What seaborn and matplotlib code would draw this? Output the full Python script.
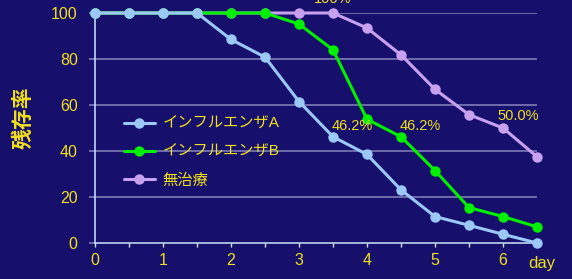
import numpy as np
import matplotlib
matplotlib.use('Agg')
import matplotlib.pyplot as plt
import pandas as pd
import seaborn as sns

# 日数（0.5日刻み）
days = [0, 0.5, 1, 1.5, 2, 2.5, 3, 3.5, 4, 4.5, 5, 5.5, 6, 6.5]
flu_a = [100, 100, 100, 100, 88.5, 80.8, 61.5, 46.2, 38.5, 23.1, 11.5, 7.7, 3.8, 0]
flu_b = [100, 100, 100, 100, 100, 100, 95.2, 84.0, 53.8, 46.2, 31.5, 15.4, 11.5, 7.0]
no_treat = [100, 100, 100, 100, 100, 100, 100, 100, 93.5, 81.8, 66.8, 55.8, 50.0, 37.5]
names = ['インフルエンザA', 'インフルエンザB', '無治療']
colors = ['#9cc8f8', '#00f000', '#c8a0f0']

df = pd.DataFrame({'day': days * 3,
                   'rate': flu_a + flu_b + no_treat,
                   'group': [n for n in names for _ in days]})

sns.set_style('dark')
plt.rcParams['font.family'] = ['Liberation Sans', 'Noto Sans CJK JP']

bg = '#160f6c'
yellow = '#f0e01c'
grid_c = '#7573b0'
spine_c = '#cfe6ff'

fig = plt.figure(figsize=(5.72, 2.79), dpi=100, facecolor=bg)
ax = fig.add_axes([95 / 572, 36 / 279, 442 / 572, 230 / 279])
ax.set_facecolor(bg)

# 無治療を一番下、Aを一番上に描く
zs = [3, 2, 1]
for name, c, z in zip(names, colors, zs):
    sns.lineplot(data=df[df['group'] == name], x='day', y='rate', ax=ax,
                 color=c, marker='o', markersize=7.5, markeredgewidth=0,
                 linewidth=2.2, label=name, zorder=z, clip_on=False)

ax.set_xlim(0, 6.5)
ax.set_ylim(0, 100)
ax.set_xticks([0, 1, 2, 3, 4, 5, 6])
ax.set_xticks(np.arange(0.5, 6.5, 1), minor=True)
ax.set_yticks([0, 20, 40, 60, 80, 100])
ax.grid(False)
for yv in [20, 40, 60, 80, 100]:
    ax.axhline(yv, color=grid_c, lw=1.3, zorder=0)

ax.tick_params(axis='x', which='both', direction='out', length=3, width=1,
               color=spine_c, labelcolor=yellow, labelsize=11.5, pad=4,
               bottom=True)
ax.tick_params(axis='y', direction='out', length=4.5, width=1.3,
               color=grid_c, labelcolor=yellow, labelsize=11.5, pad=8, left=True)

for s in ['top', 'right']:
    ax.spines[s].set_visible(False)
for s in ['left', 'bottom']:
    ax.spines[s].set_color(spine_c)
    ax.spines[s].set_linewidth(1.1)

ax.set_ylabel('')
ax.set_xlabel('day', color=yellow, fontsize=12, ha='center', va='top')
ax.xaxis.set_label_coords(1.01, -0.058)

fig.text(23 / 572, 1 - 118 / 279, '残存率', rotation=90, color=yellow,
         fontsize=15, fontweight='bold', ha='center', va='center')

# 注記
notes = [(3.5, 100, '100%', 'center', 0, 5),
         (3.5, flu_a[7], '46.2%', 'left', -1, 2.5),
         (4.5, flu_b[9], '46.2%', 'left', -1, 2.5),
         (6.0, no_treat[12], '50.0%', 'left', -4, 3.5)]
for xv, yv, txt, ha, dx, dy in notes:
    ax.annotate(txt, (xv, yv), xytext=(dx, dy), textcoords='offset points',
                ha=ha, va='bottom', color=yellow, fontsize=10.5,
                annotation_clip=False, zorder=5)

handles, labels = ax.get_legend_handles_labels()
leg = ax.legend(handles, labels, loc='upper left',
                bbox_to_anchor=(124 / 572, 1 - 117 / 279),
                bbox_transform=fig.transFigure, frameon=False,
                fontsize=11, handlelength=2.0, handletextpad=0.5,
                labelspacing=0.92, borderpad=0, borderaxespad=0)
for t in leg.get_texts():
    t.set_color(yellow)

fig.savefig('out.png', dpi=100, facecolor=bg)
